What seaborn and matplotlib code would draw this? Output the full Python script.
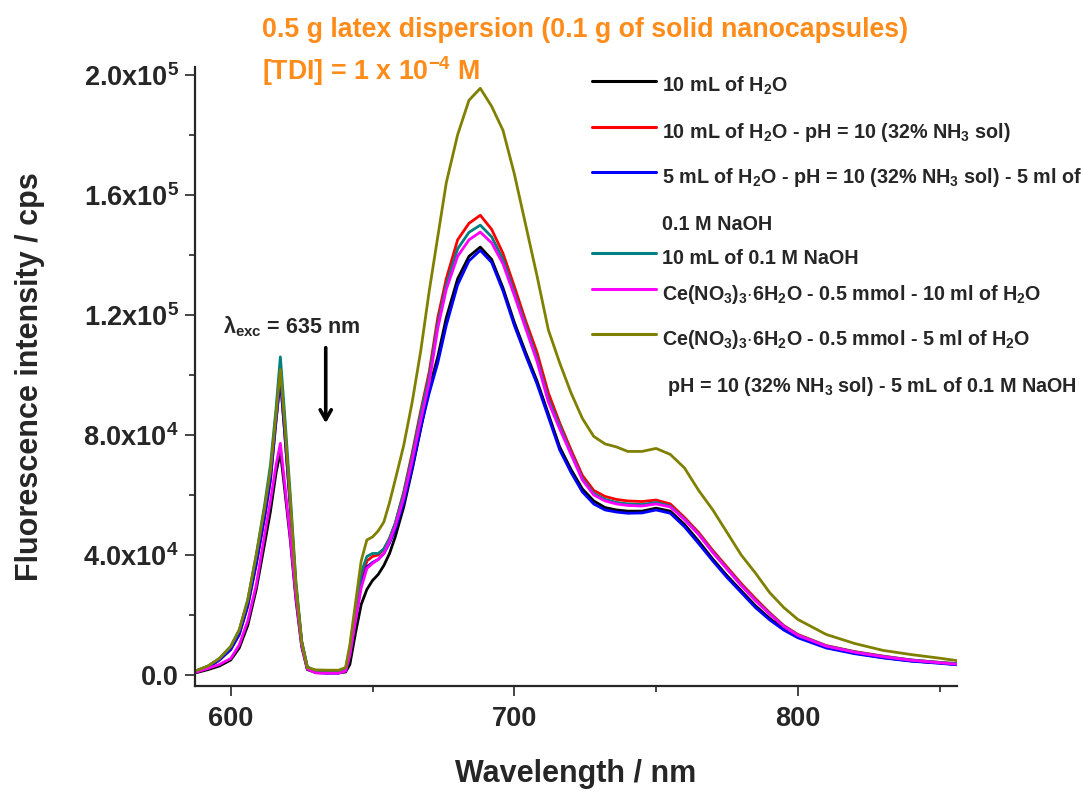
import seaborn as sns
import matplotlib
matplotlib.use('Agg')
import matplotlib.pyplot as plt
from matplotlib.lines import Line2D
from matplotlib.ticker import FixedLocator, MultipleLocator
import pandas as pd

# wavelength grid (nm) and intensities (x1000 cps)
wavelength = [588, 592, 596, 600, 603, 606, 609, 612, 614, 616, 617.5, 619, 621, 623, 625, 627,
              630, 634, 638, 640.5, 642, 644, 646, 648, 650, 652, 654, 656, 658, 661, 664, 667,
              670, 673, 676, 680, 684, 688, 692, 696, 700, 704, 708, 712, 716, 720, 724, 728,
              732, 736, 740, 745, 750, 755, 760, 765, 770, 775, 780, 785, 790, 795, 800, 810,
              820, 830, 840, 850, 856]

h2o = [0.8, 1.8, 3.0, 5.0, 9.0, 16.5, 28.5, 44.0, 54.5, 67.5, 74.4, 62.0, 45.0, 25.0, 9.5, 1.8,
       0.8, 0.7, 0.7, 1.0, 3.5, 14.0, 23.5, 28.5, 31.5, 33.5, 36.5, 40.5, 46.0, 56.0, 68.5, 82.0,
       95.5, 106.0, 119.0, 132.0, 139.5, 142.6, 138.5, 129.0, 117.5, 107.5, 98.0, 87.0, 76.0, 68.5, 62.0, 58.0,
       55.8, 55.0, 54.6, 54.6, 55.6, 54.6, 50.2, 44.6, 38.6, 33.1, 28.1, 23.1, 18.9, 15.4, 12.8, 9.3,
       7.3, 5.8, 4.7, 4.0, 3.5]

h2o_nh3 = [1.2, 2.5, 5.0, 8.5, 13.5, 23.0, 37.0, 53.0, 65.0, 85.0, 99.0, 81.0, 56.0, 29.0, 11.0, 2.5,
           1.0, 1.0, 1.0, 1.8, 8.0, 20.0, 31.0, 38.0, 39.5, 40.0, 42.0, 45.5, 50.5, 61.0, 74.0, 88.0,
           101.0, 119.0, 132.0, 145.0, 150.5, 153.2, 148.5, 140.5, 129.5, 118.0, 107.5, 94.0, 84.0, 75.0, 66.5, 61.5,
           59.5, 58.5, 58.0, 57.8, 58.3, 57.0, 52.5, 47.5, 41.5, 36.0, 30.5, 25.5, 20.8, 16.5, 13.5, 9.8,
           7.8, 6.3, 5.0, 4.2, 3.8]

h2o_nh3_naoh = [1.2, 2.5, 5.0, 8.5, 13.5, 23.0, 37.0, 53.0, 65.0, 85.0, 98.5, 81.0, 56.0, 29.0, 11.0, 2.2,
                0.8, 0.6, 0.6, 1.5, 7.0, 19.0, 30.0, 36.0, 37.5, 38.5, 40.5, 44.0, 48.5, 57.5, 69.0, 82.5,
                94.0, 104.0, 116.5, 130.0, 138.0, 141.5, 137.5, 128.0, 116.5, 106.5, 97.0, 86.0, 75.0, 67.5, 61.0, 57.0,
                55.0, 54.3, 53.9, 54.0, 55.0, 53.9, 49.4, 43.8, 38.0, 32.5, 27.5, 22.5, 18.4, 15.0, 12.4, 9.0,
                7.1, 5.7, 4.6, 3.9, 3.4]

naoh = [1.5, 3.0, 5.5, 9.5, 15.0, 25.0, 40.0, 57.0, 70.0, 89.0, 106.0, 87.0, 60.0, 31.0, 11.5, 2.8,
        1.2, 1.0, 1.0, 2.0, 9.0, 22.0, 34.0, 39.5, 40.5, 40.5, 42.0, 45.5, 50.5, 60.5, 73.0, 87.0,
        99.5, 117.0, 130.0, 142.0, 147.5, 149.9, 146.0, 138.5, 127.5, 116.5, 105.5, 92.0, 83.0, 74.0, 65.5, 60.5,
        58.5, 57.5, 57.0, 56.8, 57.5, 56.3, 52.0, 47.0, 41.0, 35.5, 30.0, 25.0, 20.5, 16.3, 13.3, 9.7,
        7.7, 6.2, 5.0, 4.2, 3.8]

ce_h2o = [1.0, 2.2, 3.5, 5.5, 10.0, 18.0, 30.0, 47.0, 58.0, 70.0, 77.2, 64.0, 46.0, 26.0, 10.0, 2.0,
          0.7, 0.6, 0.6, 1.3, 6.5, 18.0, 29.0, 35.5, 37.2, 38.5, 40.5, 44.5, 49.5, 59.0, 71.5, 85.0,
          97.5, 115.5, 128.5, 139.5, 145.0, 147.6, 144.0, 137.0, 126.5, 115.5, 104.5, 91.0, 82.0, 73.5, 65.0, 60.0,
          58.0, 57.0, 56.5, 56.3, 57.0, 56.0, 51.8, 46.8, 40.8, 35.3, 29.8, 24.8, 20.3, 16.2, 13.2, 9.6,
          7.6, 6.1, 4.9, 4.1, 3.6]

ce_nh3_naoh = [1.5, 3.0, 5.5, 9.5, 15.0, 25.0, 40.0, 56.0, 68.0, 87.0, 101.8, 84.0, 58.0, 30.0, 11.0, 2.5,
               1.7, 1.6, 1.6, 2.5, 10.0, 24.0, 38.0, 45.0, 46.0, 48.0, 51.0, 57.5, 65.0, 76.5, 91.0, 108.0,
               128.0, 146.0, 164.0, 180.0, 191.5, 195.5, 189.5, 181.5, 167.0, 150.0, 133.0, 115.0, 104.0, 94.0, 85.5, 79.5,
               77.0, 76.0, 74.5, 74.5, 75.5, 73.5, 69.0, 61.5, 55.0, 47.5, 40.0, 34.0, 27.5, 22.5, 18.5, 13.5,
               10.5, 8.2, 6.8, 5.6, 4.8]

series = [h2o, h2o_nh3, h2o_nh3_naoh, naoh, ce_h2o, ce_nh3_naoh]
names = ['h2o', 'h2o_nh3', 'h2o_nh3_naoh', 'naoh', 'ce_h2o', 'ce_nh3_naoh']
colors = ['#000000', '#FF0000', '#0000FF', '#008080', '#FF00FF', '#808000']

legend_lines = [
    ['10 mL of H$_2$O'],
    ['10 mL of H$_2$O - pH = 10 (32% NH$_3$ sol)'],
    ['5 mL of H$_2$O - pH = 10 (32% NH$_3$ sol) - 5 ml of', '0.1 M NaOH'],
    ['10 mL of 0.1 M NaOH'],
    ['Ce(NO$_3$)$_3$$\\cdot$6H$_2$O - 0.5 mmol - 10 ml of H$_2$O'],
    ['Ce(NO$_3$)$_3$$\\cdot$6H$_2$O - 0.5 mmol - 5 ml of H$_2$O',
     ' pH = 10 (32% NH$_3$ sol) - 5 mL of 0.1 M NaOH'],
]

yticks = [0, 40000, 80000, 120000, 160000, 200000]
ytick_labels = ['0.0', '4.0x10$^4$', '8.0x10$^4$', '1.2x10$^5$', '1.6x10$^5$', '2.0x10$^5$']
xticks = [600, 700, 800]

df = pd.DataFrame({
    'wavelength': wavelength * len(series),
    'intensity': [v * 1000 for s in series for v in s],
    'sample': [n for n, s in zip(names, series) for _ in s],
})

sns.set_style('ticks')
plt.rcParams['font.family'] = ['Liberation Sans', 'DejaVu Sans']
plt.rcParams['font.weight'] = 'bold'
plt.rcParams['axes.labelweight'] = 'bold'
plt.rcParams['mathtext.fontset'] = 'custom'
plt.rcParams['mathtext.rm'] = 'Liberation Sans:bold'
plt.rcParams['mathtext.it'] = 'Liberation Sans:bold'
plt.rcParams['mathtext.bf'] = 'Liberation Sans:bold'
plt.rcParams['mathtext.sf'] = 'Liberation Sans:bold'

fig = plt.figure(figsize=(10.82, 7.91), dpi=100)
W, H = 1082, 791
ax = fig.add_axes([195 / W, 1 - 685.5 / H, (957 - 195) / W, (685.5 - 67) / H])

sns.lineplot(data=df, x='wavelength', y='intensity', hue='sample', hue_order=names,
             palette=colors, linewidth=2, legend=False, errorbar=None, ax=ax)

ax.set_xlim(587.4, 856.1)
ax.set_ylim(-3500, 202600)
sns.despine(ax=ax)
for sp in ['left', 'bottom']:
    ax.spines[sp].set_linewidth(1.6)

ax.yaxis.set_major_locator(FixedLocator(yticks))
ax.set_yticklabels(ytick_labels)
ax.yaxis.set_minor_locator(MultipleLocator(20000))
ax.xaxis.set_major_locator(FixedLocator(xticks))
ax.xaxis.set_minor_locator(MultipleLocator(50))
ax.tick_params(which='major', length=7.5, width=1.2, labelsize=19.5, direction='out')
ax.tick_params(which='minor', length=4.5, width=1.2, direction='out')
ax.tick_params(axis='x', which='major', pad=7)
ax.tick_params(axis='y', which='major', pad=4)

ax.set_xlabel('Wavelength / nm', fontsize=22, labelpad=20)
ax.set_ylabel('Fluorescence intensity / cps', fontsize=22, labelpad=28)

orange = '#FF8C1A'
fig.text(262 / W, 1 - 37 / H, '0.5 g latex dispersion (0.1 g of solid nanocapsules)',
         color=orange, fontsize=19.3, fontweight='bold', ha='left', va='baseline')
fig.text(262 / W, 1 - 80 / H, '[TDI] = 1 x 10$^{-4}$ M',
         color=orange, fontsize=19.3, fontweight='bold', ha='left', va='baseline')

# excitation marker
ax.annotate('', xy=(633.5, 83000), xytext=(633.5, 110000),
            arrowprops=dict(arrowstyle='->,head_length=0.7,head_width=0.4', lw=2.6, color='black'))
ax.text(597.2, 113900, '\u03bb$_{exc}$ = 635 nm', fontsize=15.5, fontweight='bold', ha='left', va='baseline')

# manual legend (figure pixels)
line_y = [80.7, 126.7, 172.3, 253.3, 289.3, 334.3]
row_gap = 47
for lines, c, y in zip(legend_lines, colors, line_y):
    fig.add_artist(Line2D([592 / W, 656 / W], [1 - y / H, 1 - y / H], color=c, lw=2.2))
    for k, txt in enumerate(lines):
        fig.text(661.8 / W, 1 - (y + 11 + k * row_gap) / H, txt, fontsize=14.2,
                 fontweight='bold', ha='left', va='baseline')

fig.savefig('out.png', dpi=100)
